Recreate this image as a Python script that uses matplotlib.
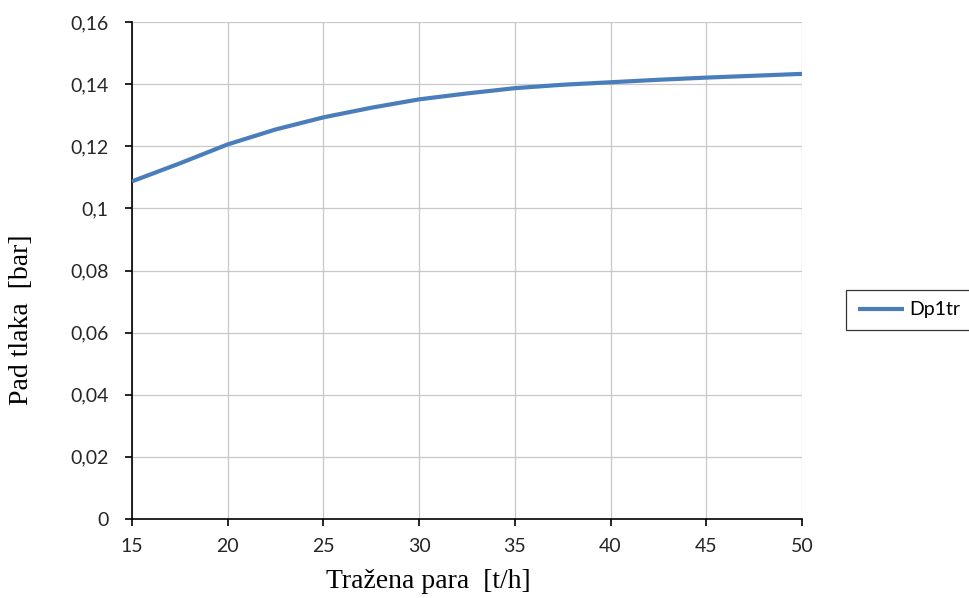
import matplotlib
matplotlib.use('Agg')
import matplotlib.pyplot as plt
from matplotlib.ticker import FuncFormatter, MultipleLocator

# values
steam_th = [15, 17.5, 20, 22.5, 25, 27.5, 30, 32.5, 35, 37.5, 40, 42.5, 45, 47.5, 50]
dp_bar   = [0.1087, 0.1145, 0.1206, 0.1254, 0.1293, 0.1324, 0.1351, 0.1370,
            0.1387, 0.1398, 0.1406, 0.1414, 0.1421, 0.1427, 0.1433]
series_label = 'Dp1tr'
x_label = 'Tražena para  [t/h]'
y_label = 'Pad tlaka  [bar]'

LINE_COLOR = '#4a7ebb'
GRID_COLOR = '#c8c8c8'

plt.rcParams.update({
    'font.family':     'Lato',
    'font.size':       14,
    'xtick.labelsize': 14,
    'ytick.labelsize': 14,
})

fig = plt.figure(figsize=(9.69, 5.98), dpi=100)
ax = fig.add_axes([132 / 969, 1 - 519 / 598, 670 / 969, 497 / 598])

ax.plot(steam_th, dp_bar, color=LINE_COLOR, linewidth=3.0,
        solid_capstyle='butt', solid_joinstyle='round',
        label=series_label, zorder=3)

ax.set_xlim(15, 50)
ax.set_ylim(0, 0.16)
ax.xaxis.set_major_locator(MultipleLocator(5))
ax.yaxis.set_major_locator(MultipleLocator(0.02))
ax.yaxis.set_major_formatter(
    FuncFormatter(lambda v, _: f"{round(v, 2):g}".replace('.', ',')))

ax.grid(True, color=GRID_COLOR, linewidth=0.9)
ax.set_axisbelow(True)

for side in ('top', 'right'):
    ax.spines[side].set_visible(False)
for side in ('left', 'bottom'):
    ax.spines[side].set_color('#000000')
    ax.spines[side].set_linewidth(1.2)

ax.tick_params(axis='y', direction='out', length=5, width=1.2, pad=12,
               colors='#000000', labelcolor='#262626')
ax.tick_params(axis='x', direction='out', length=5, width=1.2, pad=9,
               colors='#000000', labelcolor='#262626')

ax.set_xlabel(x_label, family='Liberation Serif', fontsize=20, va='center')
ax.set_ylabel(y_label, family='Liberation Serif', fontsize=20, va='center')
ax.xaxis.set_label_coords((428 - 132) / 670, (519 - 582) / 497)
ax.yaxis.set_label_coords((22 - 132) / 670, (519 - 320) / 497)

leg = fig.legend(loc='center left', bbox_to_anchor=(846 / 969, 1 - 310 / 598),
                 borderaxespad=0, frameon=True, fancybox=False,
                 handlelength=2.4, borderpad=0.6, fontsize=14,
                 handletextpad=0.25)
leg.get_frame().set_edgecolor('#000000')
leg.get_frame().set_linewidth(0.9)

fig.savefig('out.png', dpi=100)
